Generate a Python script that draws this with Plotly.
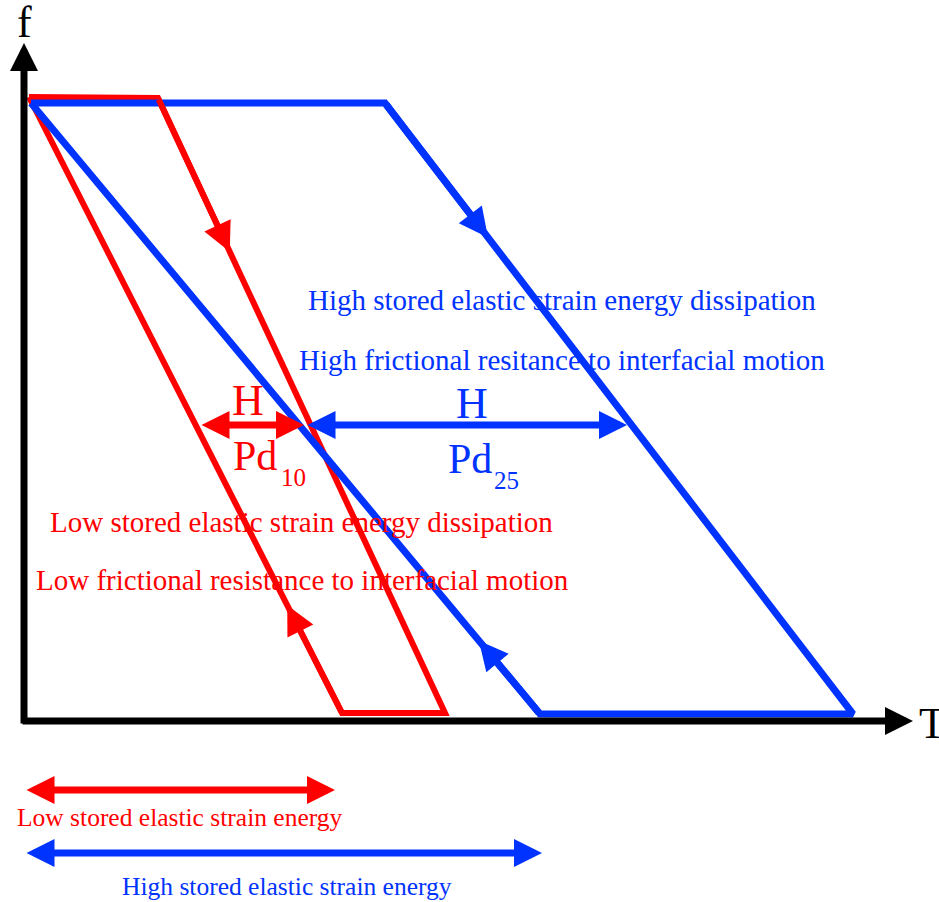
import plotly.graph_objects as go

RED = "#ff0000"
BLUE = "#0033ff"
BLACK = "#000000"
FONT = "Liberation Serif"

# ---- data (T, f) with origin at the axis corner ----
red_T = [5, 134, 421, 318, 5]
red_f = [624, 623, 8, 8, 624]
blue_T = [7, 361, 829, 516, 7]
blue_f = [618, 618, 7, 7, 618]

# loop direction arrows: (edge start vertex index, fraction along edge)
red_dir = [(1, 0.25), (3, 0.175)]
blue_dir = [(1, 0.22), (3, 0.12)]

# hysteresis widths H at level H_f
H_f = 296
red_H = [176, 280]
blue_H = [282, 603]

# stored elastic strain energy ranges
red_energy = [1, 311]
red_energy_f = -69
blue_energy = [1, 518]
blue_energy_f = -132

# axes extents
T_axis = [-3, 889]
f_axis = [-4, 678]

fig = go.Figure()
fig.add_trace(go.Scatter(x=red_T, y=red_f, mode="lines",
                         line=dict(color=RED, width=6), hoverinfo="skip"))
fig.add_trace(go.Scatter(x=blue_T, y=blue_f, mode="lines",
                         line=dict(color=BLUE, width=7), hoverinfo="skip"))

ann = []


def arrow(x0, y0, x1, y1, color, width, size, both=False):
    d = dict(x=x1, y=y1, ax=x0, ay=y0, xref="x", yref="y", axref="x", ayref="y",
             text="", showarrow=True, arrowhead=2, arrowwidth=width,
             arrowsize=size, arrowcolor=color, standoff=0, startstandoff=0)
    if both:
        d.update(arrowside="end+start", startarrowhead=2, startarrowsize=size)
    ann.append(d)


# axes
arrow(T_axis[0], 0, T_axis[1], 0, BLACK, 7, 0.8)
arrow(0, f_axis[0], 0, f_axis[1], BLACK, 7, 0.8)

# loop direction arrows
for Ts, fs, dirs, col, w in [(red_T, red_f, red_dir, RED, 6), (blue_T, blue_f, blue_dir, BLUE, 7)]:
    for i, fr in dirs:
        x0, y0 = Ts[i], fs[i]
        x1, y1 = Ts[i + 1], fs[i + 1]
        tx = x0 + fr * (x1 - x0)
        ty = y0 + fr * (y1 - y0)
        arrow(x0, y0, tx, ty, col, w, 5.8 / w)

# H double arrows
arrow(red_H[0], H_f, red_H[1], H_f, RED, 7, 0.8, both=True)
arrow(blue_H[0], H_f, blue_H[1], H_f, BLUE, 7, 0.8, both=True)

# energy double arrows
arrow(red_energy[0], red_energy_f, red_energy[1], red_energy_f, RED, 7, 0.8, both=True)
arrow(blue_energy[0], blue_energy_f, blue_energy[1], blue_energy_f, BLUE, 7, 0.8, both=True)


def text(x, y, s, color, size):
    ann.append(dict(x=x, y=y, xref="x", yref="y", text=s, showarrow=False,
                    xanchor="center", yanchor="middle",
                    font=dict(family=FONT, size=size, color=color)))


text(0, 699, "f", BLACK, 44)
text(908, -2, "T", BLACK, 44)

text(538, 421, "High stored elastic strain energy dissipation", BLUE, 29)
text(538, 361, "High frictional resitance to interfacial motion", BLUE, 29)
text(277, 199, "Low stored elastic strain energy dissipation", RED, 29)
text(278, 141, "Low frictional resistance to interfacial motion", RED, 29)

text(224, 321, "H", RED, 44)
text(231, 265, "Pd", RED, 42)
text(269, 244, "10", RED, 25)
text(448, 318, "H", BLUE, 44)
text(446, 262, "Pd", BLUE, 42)
text(482, 241, "25", BLUE, 25)

text(156, -96, "Low stored elastic strain energy", RED, 25.5)
text(263, -165, "High stored elastic strain energy", BLUE, 25.5)

fig.update_layout(
    width=939, height=902,
    margin=dict(l=0, r=0, t=0, b=0),
    paper_bgcolor="white", plot_bgcolor="white",
    showlegend=False,
    xaxis=dict(range=[-24, 915], visible=False, fixedrange=True),
    yaxis=dict(range=[-181, 721], visible=False, fixedrange=True),
    annotations=ann,
)

# remove the default 8 px page margin so the figure fills the window exactly
fig.write_html("out.html", config={"displayModeBar": False},
               post_script="document.body.style.margin='0';document.body.style.overflow='hidden';")
